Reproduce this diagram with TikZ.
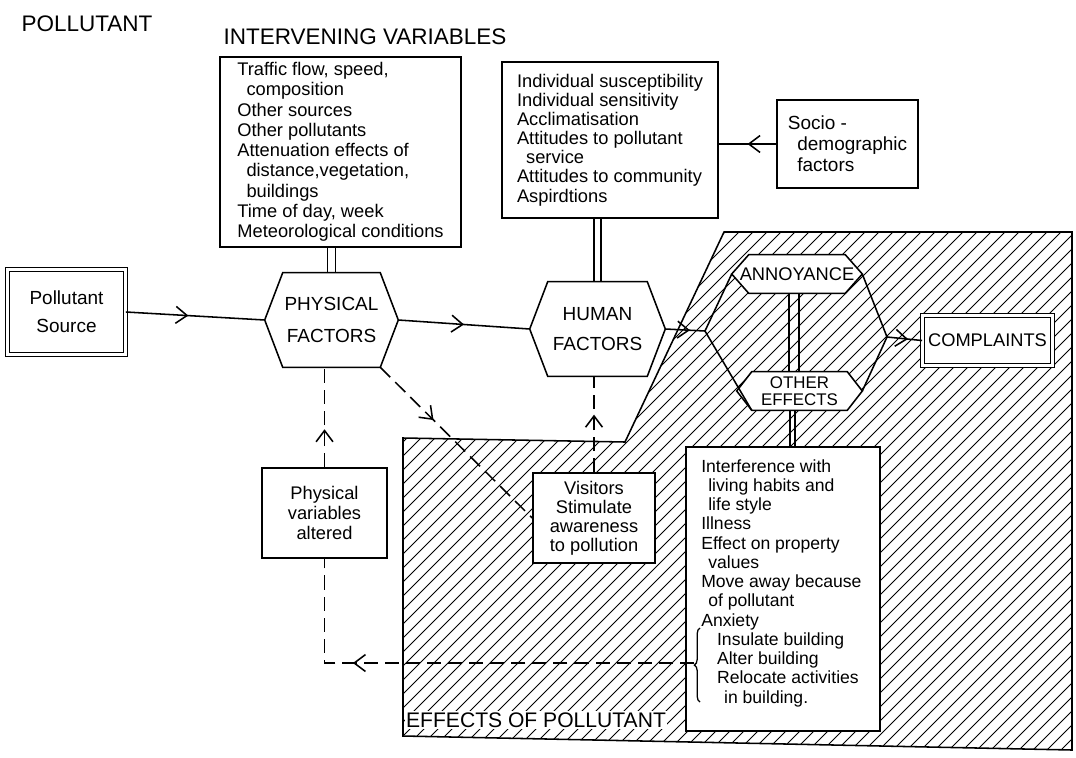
\documentclass[tikz,border=0pt]{standalone}
\usepackage{fontspec}
\setmainfont{Liberation Sans}
\usetikzlibrary{arrows.meta,decorations.markings,decorations.pathreplacing,calc}
\pgfdeclarelayer{bg}
\pgfdeclarelayer{mid}
\pgfsetlayers{bg,mid,main}
\tikzset{
  ln/.style={line width=1.1pt},
  box/.style={draw, line width=1.1pt, fill=white, inner sep=0pt},
  dbox/.style={draw, double, double distance=2.2pt, line width=0.8pt, fill=white, inner sep=0pt},
  plain/.style={inner sep=0pt},
  hexfill/.style={draw, fill=white, line width=1.1pt},
  midarrow/.style={decoration={markings, mark=at position #1 with {\arrow{Straight Barb[length=8pt,width=12pt]}}}, postaction={decorate}},
  dsh/.style={dash pattern=on 10pt off 5pt},
  hatchln/.style={line width=0.7pt},
  curly/.style={line width=0.9pt, decorate, decoration={brace, amplitude=4pt}},
}
\newcommand{\hexdraw}[2]{\filldraw[hexfill] (#1.west) -- ([xshift=#2]#1.north west) -- ([xshift=-#2]#1.north east) -- (#1.east) -- ([xshift=-#2]#1.south east) -- ([xshift=#2]#1.south west) -- cycle;}
\newcommand{\fs}[2]{\fontsize{#1}{#2}\selectfont}
\begin{document}
\begin{tikzpicture}[x=0.025cm, y=-0.025cm]
\useasboundingbox (0,0) rectangle (1076,757);

% hatched region
\begin{pgfonlayer}{bg}
\begin{scope}
\clip (403,438) -- (625,442) -- (724,232) -- (1072,232) -- (1072,750) -- (403,736) -- cycle;
\foreach \x in {-150,-136,...,1080} \draw[hatchln] (\x,757) -- ++(760,-760);
\end{scope}
\draw[ln] (403,438) -- (625,442) -- (724,232) -- (1072,232) -- (1072,750) -- (403,736) -- cycle;
\end{pgfonlayer}

% titles
\node[plain, font=\fs{16}{18}] (tpol) at (87,24) {POLLUTANT};
\node[plain, font=\fs{16}{18}] (tint) at (365,37) {INTERVENING VARIABLES};

% boxes
\node[box, align=left, minimum width=6.025cm, minimum height=4.75cm, font=\fs{13}{14.4}] (vphys) at (340.5,152)
 {Traffic flow, speed,\\\hspace*{0.5em}composition\\Other sources\\Other pollutants\\Attenuation effects of\\\hspace*{0.5em}distance,vegetation,\\\hspace*{0.5em}buildings\\Time of day, week\\Meteorological conditions};
\node[box, align=left, minimum width=5.4cm, minimum height=3.9cm, font=\fs{13}{13.6}] (vhum) at (610,140)
 {Individual susceptibility\\Individual sensitivity\\Acclimatisation\\Attitudes to pollutant\\\hspace*{0.5em}service\\Attitudes to community\\Aspirdtions};
\node[box, align=left, minimum width=3.525cm, minimum height=2.2cm, font=\fs{13.5}{15}] (socio) at (847.5,144)
 {Socio -\\\hspace*{0.5em}demographic\\\hspace*{0.5em}factors};
\node[dbox, align=center, minimum width=2.94cm, minimum height=2.12cm, font=\fs{13.5}{20}] (src) at (66.5,312) {Pollutant\\Source};

% hexagon nodes
\node[plain, align=center, minimum width=3.325cm, minimum height=2.35cm, font=\fs{13.5}{23}] (pf) at (331.5,320) {PHYSICAL\\FACTORS};
\node[plain, align=center, minimum width=3.375cm, minimum height=2.35cm, font=\fs{13.5}{21}] (hf) at (597.5,329) {HUMAN\\FACTORS};
\node[plain, minimum width=3.25cm, minimum height=0.95cm, font=\fs{13}{13}] (ann) at (797,274) {ANNOYANCE};
\node[plain, align=center, minimum width=3.125cm, minimum height=0.95cm, font=\fs{12}{12}] (oe) at (799.5,391) {OTHER\\EFFECTS};
\node[dbox, minimum width=3.245cm, minimum height=1.245cm, font=\fs{13}{14}] (comp) at (987.5,340.5) {COMPLAINTS};

\begin{pgfonlayer}{mid}
\hexdraw{pf}{0.45cm}
\hexdraw{hf}{0.45cm}
\hexdraw{ann}{0.425cm}
\hexdraw{oe}{0.375cm}
\end{pgfonlayer}

% lower boxes
\node[box, align=center, minimum width=3.125cm, minimum height=2.25cm, font=\fs{13}{14.5}] (pv) at (324.5,513) {Physical\\variables\\altered};
\node[box, align=center, minimum width=3.05cm, minimum height=2.25cm, font=\fs{13}{13.4}] (vis) at (594,518) {Visitors\\Stimulate\\awareness\\to pollution};
\node[box, minimum width=4.85cm, minimum height=7.1cm] (eff) at (783,589) {};
\node[plain, align=left, anchor=north west, font=\fs{12.5}{13.7}] (efftxt) at (701,459)
 {Interference with\\\hspace*{0.4em}living habits and\\\hspace*{0.4em}life style\\Illness\\Effect on property\\\hspace*{0.4em}values\\Move away because\\\hspace*{0.4em}of pollutant\\Anxiety\\\hspace*{0.9em}Insulate building\\\hspace*{0.9em}Alter building\\\hspace*{0.9em}Relocate activities\\\hspace*{1.3em}in building.};
\node[plain, fill=white, inner sep=1pt, font=\fs{15}{16}] (teff) at (536,720) {EFFECTS OF POLLUTANT};

\draw[curly] (700,702) -- (700,628);
\coordinate (brace) at (694,663);
\coordinate (bigL) at (705,331);
\coordinate (bigR) at (887,337);

% big hexagon
\draw[ln] (ann.west) -- (bigL) -- ([xshift=0.375cm]oe.south west);
\draw[ln] (ann.east) -- (bigR) -- (oe.east);

% solid connectors
\draw[ln, midarrow=0.45] (src.east) -- (pf.west);
\draw[ln, midarrow=0.5] (pf.east) -- (hf.west);
\draw[ln, midarrow=0.62] (hf.east) -- (bigL);
\draw[ln, midarrow=0.6] (bigR) -- (comp.west);
\draw[ln, midarrow=0.5] (socio.west) -- (socio.west -| vhum.east);

% double links
\draw[ln] ($(pf.north)+(-4,0)$) -- ($(pf.north |- vphys.south)+(-4,0)$);
\draw[ln] ($(pf.north)+(4,0)$) -- ($(pf.north |- vphys.south)+(4,0)$);
\draw[ln] ($(hf.north)+(-3.5,0)$) -- ($(hf.north |- vhum.south)+(-3.5,0)$);
\draw[ln] ($(hf.north)+(3.5,0)$) -- ($(hf.north |- vhum.south)+(3.5,0)$);
\draw[ln] ($(ann.south)+(-8,0)$) -- ($(ann.south |- oe.north)+(-8,0)$);
\draw[ln] ($(ann.south)+(2,0)$) -- ($(ann.south |- oe.north)+(2,0)$);
\draw[ln] ($(oe.south)+(-9.5,0)$) -- ($(oe.south |- eff.north)+(-9.5,0)$);
\draw[ln] ($(oe.south)+(-4.5,0)$) -- ($(oe.south |- eff.north)+(-4.5,0)$);

% dashed connectors
\draw[ln, dsh, midarrow=0.38] (pv.north) -- (pv.north |- pf.south);
\draw[ln, dsh, midarrow=0.6] (vis.north) -- (vis.north |- hf.south);
\draw[ln, dsh, midarrow=0.35] ([xshift=-0.45cm]pf.south east) -- (vis.west);
\draw[ln, dsh, midarrow=0.72] (brace) -| (pv.south);
\end{tikzpicture}
\end{document}
